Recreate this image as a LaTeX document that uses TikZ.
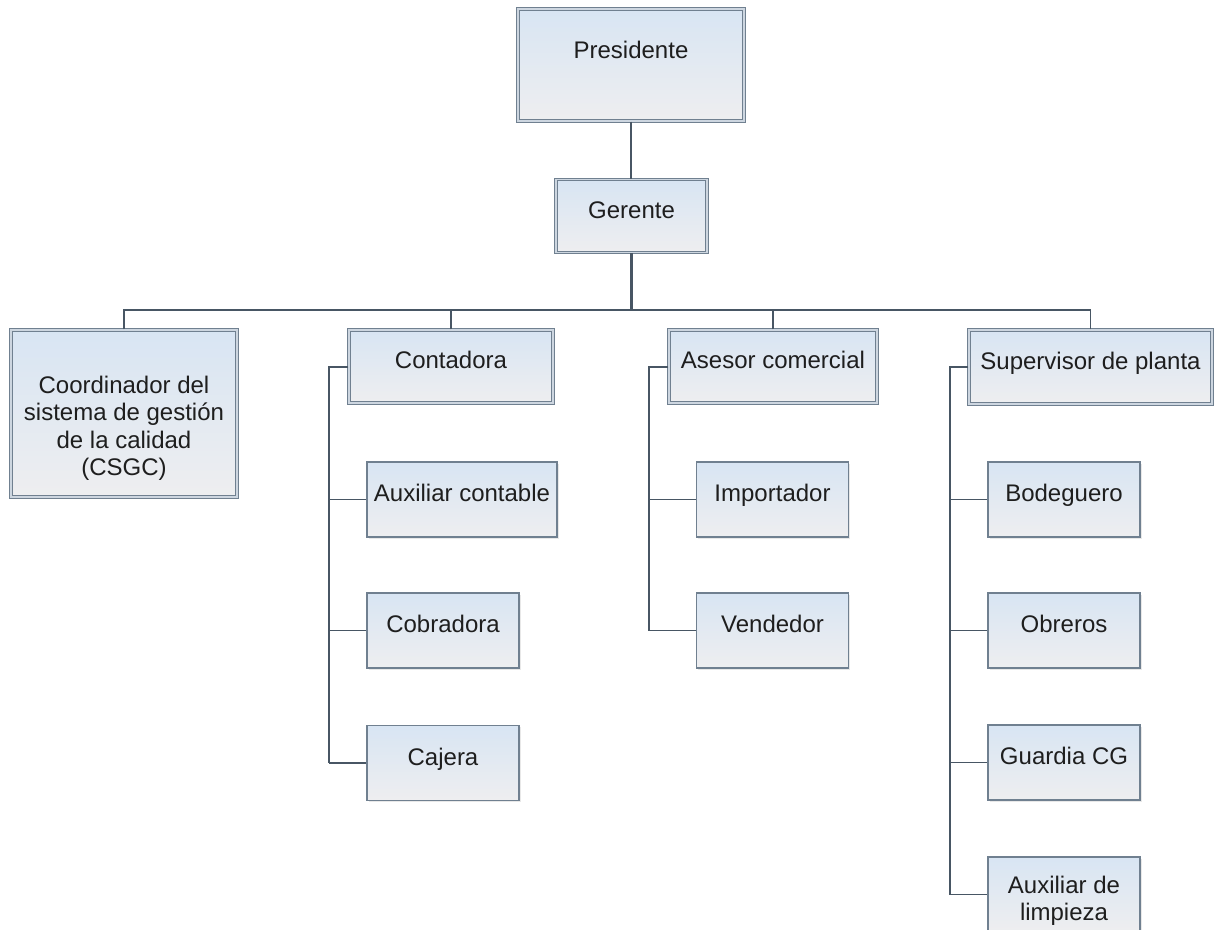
\documentclass[tikz,border=0pt]{standalone}
\usepackage{fontspec}
\setmainfont{Liberation Sans}
\usetikzlibrary{shadows}

\definecolor{boxline}{RGB}{112,128,144}
\definecolor{boxgap}{RGB}{205,214,224}
\definecolor{linkc}{RGB}{72,86,100}
\definecolor{filltop}{RGB}{216,229,243}
\definecolor{fillbot}{RGB}{238,238,240}
\definecolor{txt}{RGB}{30,30,30}

\begin{document}
\begin{tikzpicture}[x=1pt,y=-1pt,
  box/.style={rectangle, top color=filltop, bottom color=fillbot, text=txt,
    font=\fontsize{24}{27.5}\selectfont, inner sep=0pt,
    drop shadow={opacity=0.18, shadow xshift=1.5pt, shadow yshift=-1.5pt},
    text height=18pt, text depth=14pt},
  headbox/.style={box, draw=boxline, double=boxgap, double distance=1.4pt, line width=1.1pt},
  subbox/.style={box, draw=boxline, line width=1.4pt, minimum width=152pt, minimum height=75pt},
  boxtext/.style={align=center, text=txt, font=\fontsize{24}{27.5}\selectfont, inner sep=0pt},
  link/.style={draw=linkc, line width=1.3pt},
  spine/.style={draw=linkc, line width=2pt}]

\useasboundingbox (0,0) rectangle (1217,929);

% 上层方框
\node[headbox, minimum width=226pt, minimum height=112pt, text depth=32pt] (pres) at (631,65) {Presidente};
\node[headbox, minimum width=151pt, minimum height=73pt] (ger) at (631.5,216) {Gerente};

% 第二层方框
\node[headbox, minimum width=226pt, minimum height=167pt] (csgc) at (124,413.5) {};
\node[boxtext] (csgctext) at (124,428.5) {Coordinador del\\sistema de gestión\\de la calidad\\(CSGC)};
\node[headbox, minimum width=204pt, minimum height=73pt] (cont) at (451,366.5) {Contadora};
\node[headbox, minimum width=208pt, minimum height=73pt] (ases) at (773,366.5) {Asesor comercial};
\node[headbox, minimum width=243pt, minimum height=74pt] (sup) at (1090.5,367) {Supervisor de planta};

% 下属方框
\node[subbox, minimum width=190pt] (aux) at (462,499.5) {Auxiliar contable};
\node[subbox] (cob) at (443,630.5) {Cobradora};
\node[subbox] (caj) at (443,763) {Cajera};

\node[subbox] (imp) at (772.5,499.5) {Importador};
\node[subbox] (ven) at (772.5,630.5) {Vendedor};

\node[subbox] (bod) at (1064,499.5) {Bodeguero};
\node[subbox] (obr) at (1064,630.5) {Obreros};
\node[subbox] (gua) at (1064,762.5) {Guardia CG};
\node[subbox] (lim) at (1064,894.5) {};
\node[boxtext] (limtext) at (1064,901) {Auxiliar de\\limpieza};

% 连线
\coordinate (bus) at (631.5,310);
\draw[link] (pres.south) -- (pres.south |- ger.north);
\draw[link, line width=2.2pt] (ger.south) -- (bus);
\draw[link] (csgc.north) |- (bus);
\draw[link] (cont.north) |- (bus);
\draw[link] (ases.north) |- (bus);
\draw[link] (sup.north) |- (bus);

% 纵线和分支
\draw[spine] (cont.west) -- ++(-19,0) coordinate (cs) -- (cs |- caj.west);
\draw[link] (cs |- aux.west) -- (aux.west);
\draw[link] (cs |- cob.west) -- (cob.west);
\draw[link] (cs |- caj.west) -- (caj.west);

\draw[spine] (ases.west) -- ++(-19,0) coordinate (as) -- (as |- ven.west);
\draw[link] (as |- imp.west) -- (imp.west);
\draw[link] (as |- ven.west) -- (ven.west);

\draw[spine] (sup.west) -- ++(-18,0) coordinate (ss) -- (ss |- lim.west);
\draw[link] (ss |- bod.west) -- (bod.west);
\draw[link] (ss |- obr.west) -- (obr.west);
\draw[link] (ss |- gua.west) -- (gua.west);
\draw[link] (ss |- lim.west) -- (lim.west);

\end{tikzpicture}
\end{document}
